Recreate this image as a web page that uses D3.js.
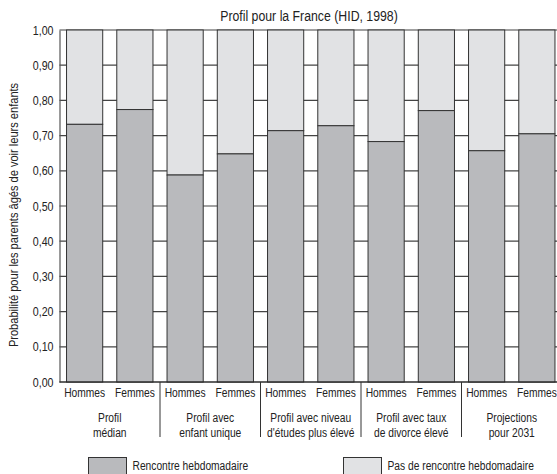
<!DOCTYPE html>
<html>
<head>
<meta charset="utf-8">
<script src="https://cdn.jsdelivr.net/npm/d3@7"></script>
<style>
  body { margin: 0; background: #fff; }
  svg { display: block; font-family: "Liberation Sans Narrow", "Liberation Sans", Arial, sans-serif; }
</style>
</head>
<body>
<svg width="557" height="474"></svg>
<script>
// data
const groups = ["Profil|médian", "Profil avec|enfant unique", "Profil avec niveau|d'études plus élevé",
                "Profil avec taux|de divorce élevé", "Projections|pour 2031"];
const sexes = ["Hommes", "Femmes"];
const hommes = [0.732, 0.588, 0.714, 0.683, 0.657];
const femmes = [0.774, 0.648, 0.728, 0.771, 0.705];
const yTicks = [0, 0.1, 0.2, 0.3, 0.4, 0.5, 0.6, 0.7, 0.8, 0.9, 1.0];
const seriesNames = ["Rencontre hebdomadaire", "Pas de rencontre hebdomadaire"];

const width = 557, height = 474;
let margin = {top: 30, left: 59.5, bottom: 92};
const plotBottom = height - margin.bottom;
const plotRight = margin.left + 5 * 100.5;

const svg = d3.select("svg");
const frLocale = d3.formatLocale({decimal: ",", thousands: " ", grouping: [3], currency: ["", " €"]});
const fmt = frLocale.format(".2f");

const darkColor = "#b9babd", lightColor = "#e1e2e4", lineColor = "#333", textColor = "#222";

// the original uses a narrow font: squeeze the regular one around its anchor x
function condense(sel) {
    sel.each(function() {
        const el = d3.select(this);
        const x = +el.attr("x") || 0;
        const t = el.attr("transform") || "";
        el.attr("transform", `${t} translate(${x},0) scale(0.82,1) translate(${-x},0)`);
    });
}

const rows = [];
groups.forEach(function(g, i) {
    rows.push({group: g, sex: "Hommes", value: hommes[i]});
    rows.push({group: g, sex: "Femmes", value: femmes[i]});
});

// scales
const x0 = d3.scaleBand()
    .domain(groups)
    .range([margin.left, plotRight]);

const x1 = d3.scaleBand()
    .domain(sexes)
    .range([0, x0.bandwidth()])
    .paddingInner(0.28)
    .paddingOuter(0.14);

const y = d3.scaleLinear()
    .domain([0, 1])
    .range([plotBottom, margin.top]);

// title
svg.append("text")
    .attr("x", 309)
    .attr("y", 21)
    .attr("text-anchor", "middle")
    .style("font-size", "15px")
    .attr("fill", textColor)
    .text("Profil pour la France (HID, 1998)")
    .call(condense);

// gridlines
svg.append("g")
    .selectAll("line")
    .data(yTicks)
    .enter().append("line")
    .attr("x1", margin.left)
    .attr("x2", width)
    .attr("y1", d => y(d))
    .attr("y2", d => y(d))
    .attr("stroke", "#444")
    .attr("stroke-width", 1.2);

// y axis
const yAxis = svg.append("g")
    .attr("transform", `translate(${margin.left}, 0)`)
    .call(d3.axisLeft(y).tickValues(yTicks).tickFormat(fmt).tickSize(0).tickPadding(6));
yAxis.attr("font-family", null);
yAxis.select(".domain").attr("stroke", "#555").attr("stroke-width", 1.2);
yAxis.selectAll("text")
    .style("font-size", "13px")
    .attr("fill", textColor)
    .call(condense);

// y label
svg.append("text")
    .attr("transform", "rotate(-90)")
    .attr("x", -215)
    .attr("y", 18)
    .attr("text-anchor", "middle")
    .style("font-size", "13.5px")
    .attr("fill", textColor)
    .text("Probabilité pour les parents âgés de voir leurs enfants")
    .call(condense);

// bars
const bars = svg.append("g").selectAll("g")
    .data(rows)
    .enter().append("g")
    .attr("transform", d => `translate(${x0(d.group) + x1(d.sex)}, 0)`);

bars.append("rect")
    .attr("y", y(1))
    .attr("width", x1.bandwidth())
    .attr("height", d => y(d.value) - y(1))
    .attr("fill", lightColor)
    .attr("stroke", lineColor)
    .attr("stroke-width", 1);

bars.append("rect")
    .attr("y", d => y(d.value))
    .attr("width", x1.bandwidth())
    .attr("height", d => y(0) - y(d.value))
    .attr("fill", darkColor)
    .attr("stroke", lineColor)
    .attr("stroke-width", 1);

// x axis baseline
svg.append("line")
    .attr("x1", margin.left)
    .attr("x2", width)
    .attr("y1", y(0))
    .attr("y2", y(0))
    .attr("stroke", "#222")
    .attr("stroke-width", 1.2);

// sex labels
bars.append("text")
    .attr("x", x1.bandwidth() / 2)
    .attr("y", y(0) + 15)
    .attr("text-anchor", "middle")
    .style("font-size", "12.5px")
    .attr("fill", textColor)
    .text(d => d.sex)
    .call(condense);

// group separators
svg.append("g").selectAll("line")
    .data(groups.slice(1))
    .enter().append("line")
    .attr("x1", d => x0(d))
    .attr("x2", d => x0(d))
    .attr("y1", y(0))
    .attr("y2", y(0) + 55)
    .attr("stroke", "#333")
    .attr("stroke-width", 1);

// group labels, two lines each
const labelLines = [];
groups.forEach(function(g) {
    g.split("|").forEach((t, i) => labelLines.push({group: g, text: t, line: i}));
});

svg.append("g").selectAll("text")
    .data(labelLines)
    .enter().append("text")
    .attr("x", d => x0(d.group) + x0.bandwidth() / 2)
    .attr("y", d => y(0) + 40.5 + d.line * 14.5)
    .attr("text-anchor", "middle")
    .style("font-size", "12.5px")
    .attr("fill", textColor)
    .text(d => d.text)
    .call(condense);

// legend
const legendX = [88.5, 343.5];
const legendColors = [darkColor, lightColor];
const legend = svg.append("g").selectAll("g")
    .data(seriesNames)
    .enter().append("g")
    .attr("transform", (d, i) => `translate(${legendX[i]}, 457.5)`);

legend.append("rect")
    .attr("width", 38)
    .attr("height", 20)
    .attr("fill", (d, i) => legendColors[i])
    .attr("stroke", lineColor)
    .attr("stroke-width", 1);

legend.append("text")
    .attr("x", 44)
    .attr("y", 12.5)
    .style("font-size", "12.5px")
    .attr("fill", textColor)
    .text(d => d)
    .call(condense);
</script>
</body>
</html>
